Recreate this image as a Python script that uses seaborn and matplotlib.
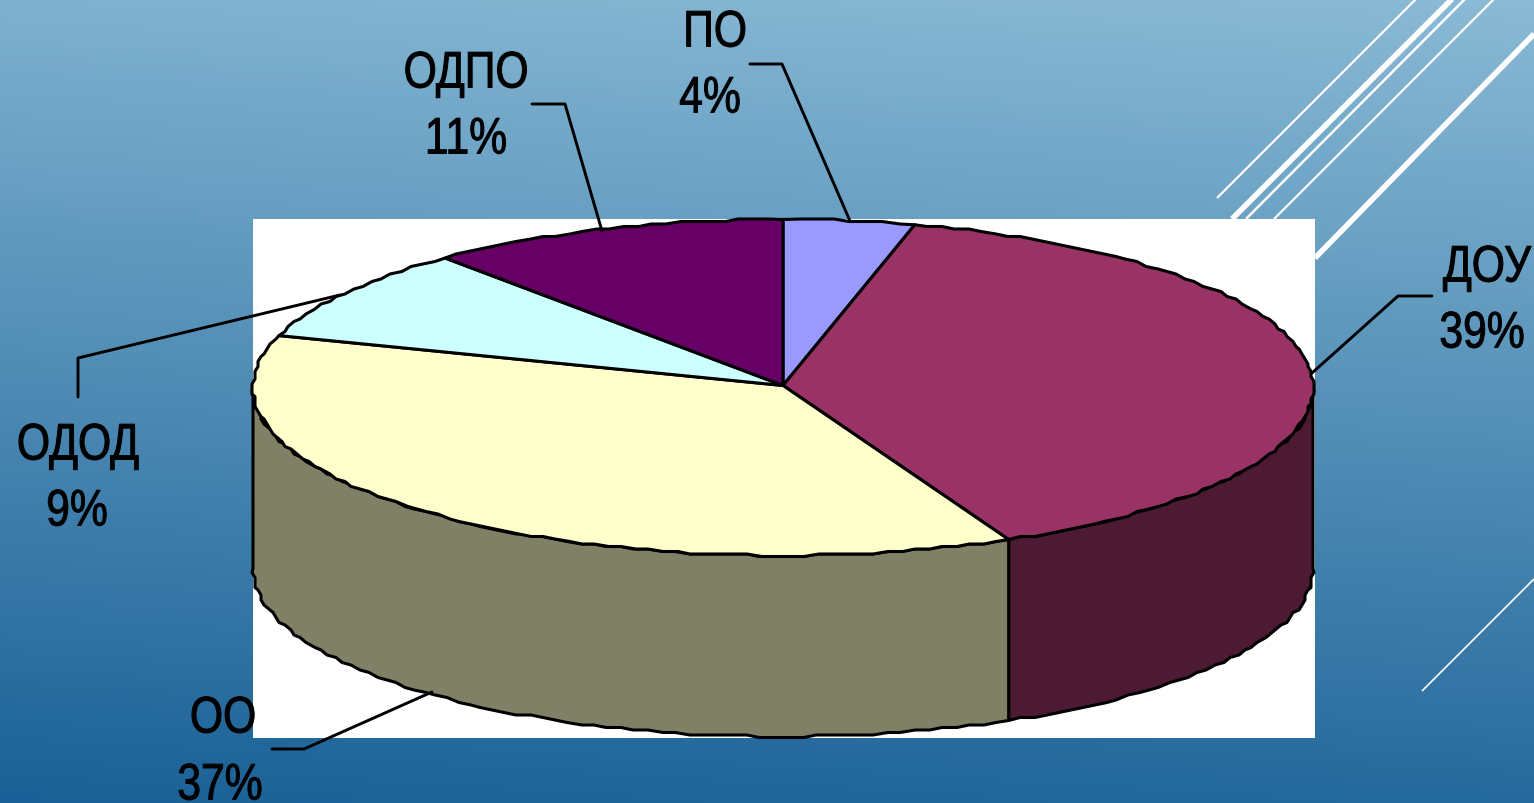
import numpy as np
import matplotlib.pyplot as plt
import seaborn as sns
from matplotlib.colors import LinearSegmentedColormap
from matplotlib.patches import Polygon, Rectangle
from matplotlib.patheffects import AbstractPathEffect
from matplotlib.transforms import Affine2D

# share of each type, clockwise from 12 o'clock
categories = ['ПО', 'ДОУ', 'ОО', 'ОДОД', 'ОДПО']
percents = [4, 39, 37, 9, 11]
top_colors = ['#9999ff', '#993366', '#ffffcc', '#ccffff', '#660066']
side_colors = ['#4d1a33', '#4c1a33', '#808066', '#66807f', '#330033']

sns.set_theme(style='white')
plt.rcParams['font.family'] = ['Liberation Sans', 'DejaVu Sans']

fig = plt.figure(figsize=(15.34, 8.04), dpi=100)
ax = fig.add_axes([0, 0, 1, 1])
ax.set_xlim(0, 1534)
ax.set_ylim(804, 0)
ax.axis('off')


class Squeeze(AbstractPathEffect):
    # the labels in the original are a condensed Arial, no narrow font here
    def __init__(self, x0, sx=0.83, stroke=0.7):
        super().__init__()
        self.x0, self.sx, self.stroke = x0, sx, stroke

    def draw_path(self, renderer, gc, tpath, affine, rgbFace=None):
        squeeze = Affine2D().translate(-self.x0, 0).scale(self.sx, 1).translate(self.x0, 0)
        gc0 = renderer.new_gc()
        gc0.copy_properties(gc)
        gc0.set_linewidth(self.stroke)
        gc0.set_foreground('black')
        renderer.draw_path(gc0, tpath, affine + squeeze, rgbFace)
        gc0.restore()


# blue slide background
yy, xx = np.mgrid[0:804:4, 0:1534:4]
grad = (yy + 0.06 * (1534 - xx)) / (804 + 0.06 * 1534)
cmap = LinearSegmentedColormap.from_list('slide', ['#8abad5', '#1a6197'])
ax.imshow(grad, extent=(0, 1534, 804, 0), cmap=cmap, aspect='auto', zorder=0)

# white diagonal lines
for x0, y0, x1, y1, w in [(1217, 199, 1416, 0, 1.6), (1232, 220, 1452, 0, 4),
                          (1246, 220, 1465, 0, 1.8), (1274, 220, 1494, 0, 1.6),
                          (1315, 259, 1534, 35, 4), (1422, 692, 1534, 580, 1.2)]:
    ax.plot([x0, x1], [y0, y1], color='white', lw=w, zorder=1, solid_capstyle='butt')

ax.add_patch(Rectangle((253, 219.5), 1062, 519, fc='white', ec='none', zorder=2))

cx, cy, rx, ry, depth = 783, 388.5, 530, 168, 181


def rim(a0, a1, dy=0):
    # points on the ellipse, slightly wobbly like the low-res original
    n = max(2, int((a1 - a0) / 1.5))
    a = np.radians(np.linspace(a0, a1, n))
    x = cx + rx * np.sin(a)
    y = cy - ry * np.cos(a)
    x[1:-1] = np.round(x[1:-1] / 3) * 3
    y[1:-1] = np.round(y[1:-1] / 2.5) * 2.5
    return np.column_stack([x, y + dy])


edges = np.concatenate([[0], np.cumsum(percents)]) * 3.6

# side wall, only the part facing us
for i in range(len(percents)):
    a0, a1 = max(edges[i], 90), min(edges[i + 1], 270)
    if a1 <= a0:
        continue
    upper = rim(a0, a1)
    lower = rim(a0, a1, depth)[::-1]
    ax.add_patch(Polygon(np.vstack([upper, lower]), closed=True, fc=side_colors[i],
                         ec='black', lw=2.2, joinstyle='round', zorder=3))

# top face
for i in range(len(percents)):
    pts = np.vstack([[[cx, cy - 2]], rim(edges[i], edges[i + 1])])
    ax.add_patch(Polygon(pts, closed=True, fc=top_colors[i], ec='black', lw=2.2,
                         joinstyle='round', zorder=4))

# leader lines
leaders = [[(750, 65), (782, 65), (850, 222)],
           [(1432, 297), (1398, 297), (1312, 374)],
           [(272, 750), (304, 750), (432, 693)],
           [(78, 398), (78, 359), (340, 296)],
           [(532, 105), (565, 105), (602, 232)]]
for pts in leaders:
    px, py = zip(*pts)
    ax.plot(px, py, color='black', lw=2.1, zorder=5)

# labels
name_pos = [(715, 34), (1487, 269), (223, 720), (78, 447), (466, 75)]
pct_pos = [(710, 100), (1482, 335), (220, 787), (77, 513), (466, 141)]
for name, pct, p0, p1 in zip(categories, percents, name_pos, pct_pos):
    ax.text(p0[0], p0[1], name, fontsize=37, color='black', ha='center', va='center',
            zorder=6, clip_on=False, path_effects=[Squeeze(p0[0])])
    ax.text(p1[0], p1[1], f'{pct}%', fontsize=37, color='black', ha='center', va='center',
            zorder=6, clip_on=False, path_effects=[Squeeze(p1[0])])

fig.savefig('out.png', dpi=100)
